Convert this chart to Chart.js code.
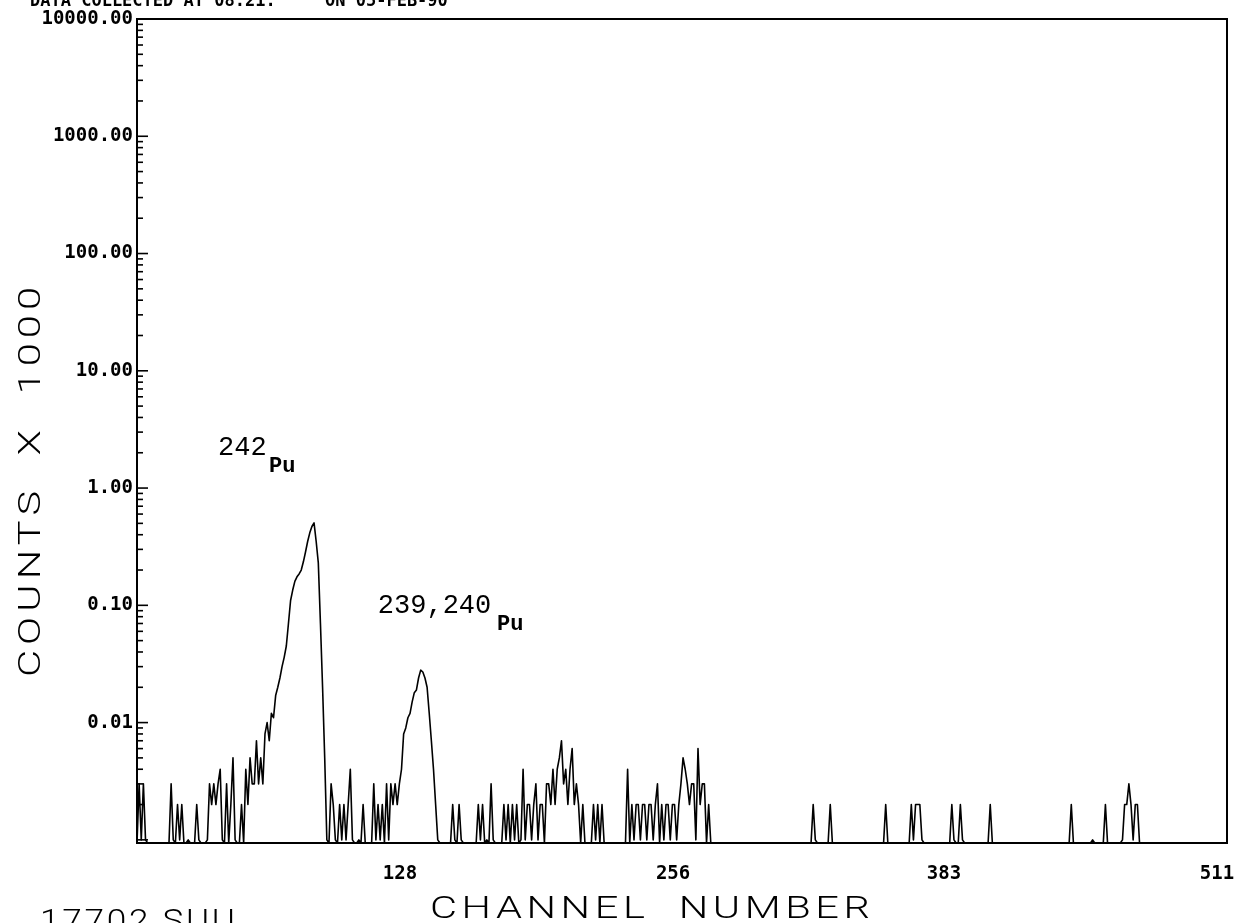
<!DOCTYPE html>
<html>
<head>
<meta charset="utf-8">
<title>Spektrum alfa Pu</title>
<script src="https://cdn.jsdelivr.net/npm/chart.js@4.4.0/dist/chart.umd.min.js"></script>
<style>
  html, body { margin: 0; padding: 0; background: #fff; }
  #wadah { width: 1240px; height: 923px; position: relative; }
</style>
</head>
<body>
<div id="wadah"><canvas id="spektrum"></canvas></div>
<script>
// Data spektrum (cacah per kanal, 512 kanal)
const counts = [
  0, 3, 1, 3, 1, 0, 0, 0, 0, 0, 0, 0, 0, 0, 0, 0,
  3, 1, 0, 2, 1, 2, 0, 0, 1, 0, 0, 0, 2, 1, 0, 0,
  0, 1, 3, 2, 3, 2, 3, 4, 1, 0, 3, 0, 2, 5, 1, 0,
  0, 2, 0, 4, 2, 5, 3, 3, 7, 3, 5, 3, 8, 10, 7, 12,
  11, 17, 20, 24, 30, 36, 45, 70, 110, 135, 160, 175, 185, 200, 235, 285,
  350, 415, 470, 505, 350, 230, 70, 20, 5, 1, 0, 3, 2, 1, 0, 2,
  1, 2, 1, 2, 4, 1, 0, 0, 1, 0, 2, 0, 0, 0, 0, 3,
  1, 2, 1, 2, 0, 3, 1, 3, 2, 3, 2, 3, 4, 8, 9, 11,
  12, 15, 18, 19, 24, 28, 27, 24, 20, 12, 7, 4, 2, 1, 0, 0,
  0, 0, 0, 0, 2, 1, 0, 2, 1, 0, 0, 0, 0, 0, 0, 0,
  2, 1, 2, 0, 1, 0, 3, 1, 0, 0, 0, 0, 2, 1, 2, 0,
  2, 1, 2, 0, 1, 4, 1, 2, 2, 1, 2, 3, 1, 2, 2, 0,
  3, 3, 2, 4, 2, 4, 5, 7, 3, 4, 2, 4, 6, 2, 3, 2,
  0, 2, 0, 0, 0, 0, 2, 1, 2, 0, 2, 0, 0, 0, 0, 0,
  0, 0, 0, 0, 0, 0, 4, 0, 2, 1, 2, 2, 1, 2, 2, 1,
  2, 2, 1, 2, 3, 0, 2, 1, 2, 2, 1, 2, 2, 1, 2, 3,
  5, 4, 3, 2, 3, 3, 1, 6, 2, 3, 3, 0, 2, 0, 0, 0,
  0, 0, 0, 0, 0, 0, 0, 0, 0, 0, 0, 0, 0, 0, 0, 0,
  0, 0, 0, 0, 0, 0, 0, 0, 0, 0, 0, 0, 0, 0, 0, 0,
  0, 0, 0, 0, 0, 0, 0, 0, 0, 0, 0, 0, 0, 2, 1, 0,
  0, 0, 0, 0, 0, 2, 0, 0, 0, 0, 0, 0, 0, 0, 0, 0,
  0, 0, 0, 0, 0, 0, 0, 0, 0, 0, 0, 0, 0, 0, 0, 2,
  0, 0, 0, 0, 0, 0, 0, 0, 0, 0, 0, 2, 1, 2, 2, 2,
  1, 0, 0, 0, 0, 0, 0, 0, 0, 0, 0, 0, 0, 0, 2, 1,
  0, 0, 2, 1, 0, 0, 0, 0, 0, 0, 0, 0, 0, 0, 0, 0,
  2, 0, 0, 0, 0, 0, 0, 0, 0, 0, 0, 0, 0, 0, 0, 0,
  0, 0, 0, 0, 0, 0, 0, 0, 0, 0, 0, 0, 0, 0, 0, 0,
  0, 0, 0, 0, 0, 0, 2, 0, 0, 0, 0, 0, 0, 0, 0, 0,
  1, 0, 0, 0, 0, 0, 2, 0, 0, 0, 0, 0, 0, 0, 1, 2,
  2, 3, 2, 1, 2, 2, 0, 0, 0, 0, 0, 0, 0, 0, 0, 0,
  0, 0, 0, 0, 0, 0, 0, 0, 0, 0, 0, 0, 0, 0, 0, 0,
  0, 0, 0, 0, 0, 0, 0, 0, 0, 0, 0, 0, 0, 0, 0, 0
];

// Sumbu
const xTicks = [128, 256, 383, 511];
const yTicks = [0.01, 0.1, 1, 10, 100, 1000, 10000];
const xMin = 0;
const xMax = 511;
const yMin = 0.00094; // dasar grafik (cacah nol)
const yMax = 10000;

// Teks
const headerLeft = "DATA COLLECTED AT 08.21.";
const headerRight = "ON 05-FEB-90";
const xTitle = "CHANNEL  NUMBER";
const yTitle = "COUNTS  X  1000";
const runLabel = "17702 SUU";

// Label puncak (posisi dalam kanal dan nilai x1000)
const peakLabels = [
  { mass: "242", ch: 38, val: 1.93, puCh: 61.9, puVal: 1.38 },
  { mass: "239,240", ch: 112.9, val: 0.0867, puCh: 168.8, puVal: 0.062 }
];

// Tulis teks lebar (huruf diregangkan) agar pas dengan lebar tertentu
function tulisRenggang(ctx, text, x, y, width, sx) {
  ctx.save();
  ctx.translate(x, y);
  ctx.scale(sx, 1);
  ctx.letterSpacing = "0px";
  const w = ctx.measureText(text).width;
  const sp = Math.max(0, (width / sx - w) / (text.length - 1));
  ctx.letterSpacing = sp + "px";
  ctx.textAlign = "left";
  ctx.fillText(text, 0, 0);
  ctx.restore();
}

const bingkaiPlugin = {
  id: "bingkai",
  afterDraw(chart) {
    const { ctx, chartArea: a, scales: { x, y } } = chart;
    ctx.save();
    ctx.strokeStyle = "#000";
    ctx.fillStyle = "#000";

    // bingkai kotak
    ctx.lineWidth = 2;
    ctx.strokeRect(a.left, a.top, a.right - a.left, a.bottom - a.top);

    // tick minor log di sisi dalam sumbu Y
    ctx.lineWidth = 1.6;
    for (let k = -3; k <= 4; k++) {
      for (let m = 1; m <= 9; m++) {
        const v = m * Math.pow(10, k);
        if (v < y.min || v > y.max * 1.0001) continue;
        const py = y.getPixelForValue(v);
        ctx.beginPath();
        ctx.moveTo(a.left, py);
        ctx.lineTo(a.left + (m === 1 ? 11 : 6), py);
        ctx.stroke();
      }
    }

    // header (terpotong di atas)
    ctx.font = "bold 17px 'DejaVu Sans Mono'";
    ctx.textBaseline = "alphabetic";
    ctx.textAlign = "left";
    ctx.fillText(headerLeft, 30, 6);
    ctx.fillText(headerRight, 325, 6);

    // judul sumbu
    ctx.font = "300 32px Roboto";
    tulisRenggang(ctx, xTitle, 430, 918, 440, 1.3);
    tulisRenggang(ctx, runLabel, 40, 931, 195, 1.1);

    ctx.save();
    ctx.translate(40, 677);
    ctx.rotate(-Math.PI / 2);
    tulisRenggang(ctx, yTitle, 0, 0, 390, 1.3);
    ctx.restore();

    // label puncak
    peakLabels.forEach(p => {
      ctx.font = "27px 'Liberation Mono'";
      ctx.fillText(p.mass, x.getPixelForValue(p.ch), y.getPixelForValue(p.val));
      ctx.font = "bold 22px 'Liberation Mono'";
      ctx.fillText("Pu", x.getPixelForValue(p.puCh), y.getPixelForValue(p.puVal));
    });

    ctx.restore();
  }
};

document.addEventListener("DOMContentLoaded", function () {
  const ctx = document.getElementById("spektrum").getContext("2d");
  const titik = counts.map((c, i) => ({ x: i, y: c > 0 ? c / 1000 : yMin }));

  new Chart(ctx, {
    type: "line",
    data: {
      datasets: [
        {
          label: "Pu",
          data: titik,
          borderColor: "#000",
          borderWidth: 1.6,
          borderJoinStyle: "round",
          pointRadius: 0,
          tension: 0,
          fill: false
        }
      ]
    },
    options: {
      responsive: true,
      maintainAspectRatio: false,
      animation: false,
      layout: { padding: { left: 0, top: 19, right: 13, bottom: 0 } },
      plugins: {
        legend: { display: false },
        tooltip: { enabled: false }
      },
      scales: {
        x: {
          type: "linear",
          min: xMin,
          max: xMax,
          bounds: "data",
          grid: { display: false, drawTicks: false },
          border: { display: false },
          afterBuildTicks: s => { s.ticks = xTicks.map(v => ({ value: v })); },
          afterFit: s => {
            s.height = 80;
            s.paddingLeft = 0;
            s.paddingRight = 0;
          },
          ticks: {
            autoSkip: false,
            maxRotation: 0,
            padding: 20,
            labelOffset: -10,
            color: "#000",
            font: { family: "'DejaVu Sans Mono'", size: 19, weight: "bold" },
            callback: v => String(v)
          }
        },
        y: {
          type: "logarithmic",
          min: yMin,
          max: yMax,
          bounds: "data",
          grid: { display: false, drawTicks: false },
          border: { display: false },
          afterBuildTicks: s => { s.ticks = yTicks.map(v => ({ value: v })); },
          afterFit: s => {
            s.width = 137;
            s.paddingTop = 0;
            s.paddingBottom = 0;
          },
          ticks: {
            autoSkip: false,
            padding: 4,
            color: "#000",
            font: { family: "'DejaVu Sans Mono'", size: 19, weight: "bold" },
            callback: v => Number(v).toFixed(2)
          }
        }
      }
    },
    plugins: [bingkaiPlugin]
  });
});
</script>
</body>
</html>
